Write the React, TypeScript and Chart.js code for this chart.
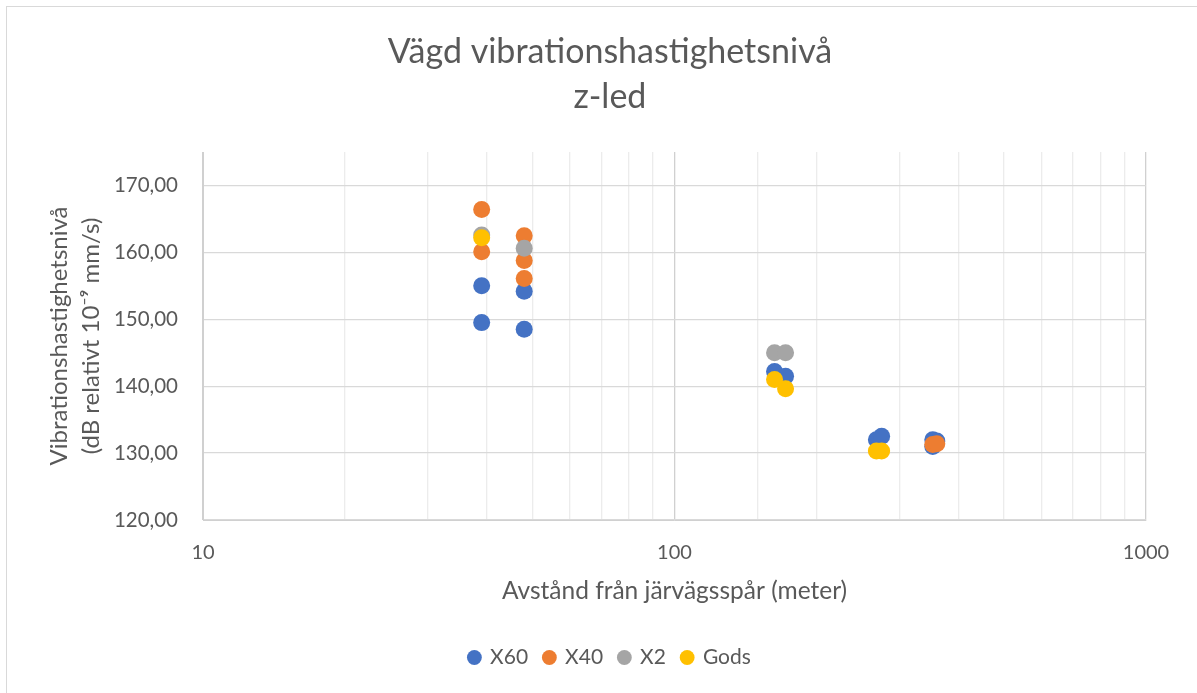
import React, { useEffect, useRef } from 'react';
import { Chart, registerables } from 'chart.js';

Chart.register(...registerables);

const titleLines = ['Vägd vibrationshastighetsnivå', 'z-led'];
const xAxisTitle = 'Avstånd från järvägsspår (meter)';
const yAxisTitle = ['Vibrationshastighetsnivå', '(dB relativt 10⁻⁹ mm/s)'];

const seriesNames = ['X60', 'X40', 'X2', 'Gods'];
const seriesColors = ['#4472C4', '#ED7D31', '#A5A5A5', '#FFC000'];

const x60X = [39, 39, 48, 48, 163, 172, 268, 275, 353, 360, 353];
const x60Y = [155.0, 149.5, 154.2, 148.5, 142.2, 141.5, 132.0, 132.5, 132.0, 131.8, 131.0];

const x40X = [39, 39, 48, 48, 48, 353, 360];
const x40Y = [166.4, 160.1, 162.5, 158.8, 156.1, 131.3, 131.4];

const x2X = [39, 48, 163, 172];
const x2Y = [162.6, 160.6, 145.0, 145.0];

const godsX = [39, 163, 172, 268, 275];
const godsY = [162.2, 141.0, 139.6, 130.3, 130.3];

const xMajorTicks = [10, 100, 1000];
const yTicks = [120, 130, 140, 150, 160, 170];
const yMin = 120;
const yMax = 175;

const FONT = 'Lato';
const TEXT = '#595959';

function toPoints(xs: number[], ys: number[]) {
  return xs.map((x, i) => ({ x, y: ys[i] }));
}

export default function App() {
  const ref = useRef<HTMLCanvasElement | null>(null);

  useEffect(() => {
    document.body.style.margin = '0';
    const canvas = ref.current;
    if (!canvas) return;
    const seriesData = [
      toPoints(x60X, x60Y),
      toPoints(x40X, x40Y),
      toPoints(x2X, x2Y),
      toPoints(godsX, godsY),
    ];
    const chart = new Chart(canvas, {
      type: 'scatter',
      data: {
        datasets: seriesNames.map((name, i) => ({
          label: name,
          data: seriesData[i],
          backgroundColor: seriesColors[i],
          borderColor: seriesColors[i],
          pointRadius: 8.5,
          pointHoverRadius: 8.5,
          pointBorderWidth: 0,
          order: seriesNames.length - i,
        })),
      },
      options: {
        animation: false,
        responsive: false,
        maintainAspectRatio: false,
        layout: { padding: { left: 74, right: 51, top: 0, bottom: 15 } },
        plugins: {
          tooltip: { enabled: false },
          title: {
            display: true,
            text: titleLines,
            color: TEXT,
            font: { family: FONT, size: 34, weight: 'normal', lineHeight: 45 / 34 },
            padding: { top: 29.5, bottom: 32.5 },
          },
          legend: {
            position: 'bottom',
            labels: {
              usePointStyle: true,
              pointStyle: 'circle',
              boxHeight: 10.5,
              boxWidth: 10.5,
              padding: 16,
              color: TEXT,
              font: { family: FONT, size: 21 },
              sort: (a: any, b: any) => a.datasetIndex - b.datasetIndex,
            },
          },
        },
        scales: {
          x: {
            type: 'logarithmic',
            min: 10,
            max: 1000,
            afterFit: (scale: any) => {
              scale.height = 111;
            },
            border: { color: '#d0d0d0' },
            grid: {
              drawTicks: false,
              color: (ctx: any) => {
                const v = ctx.tick ? ctx.tick.value : 0;
                return xMajorTicks.includes(v) ? '#d0d0d0' : '#ececec';
              },
              lineWidth: 1.3,
            },
            ticks: {
              autoSkip: false,
              maxRotation: 0,
              padding: 21,
              color: TEXT,
              font: { family: FONT, size: 20 },
              callback: (value: any) => (xMajorTicks.includes(Number(value)) ? String(value) : ''),
            },
            title: {
              display: true,
              text: xAxisTitle,
              color: TEXT,
              font: { family: FONT, size: 24.5, lineHeight: 1.2 },
              padding: { top: 0, bottom: 25 },
            },
          },
          y: {
            type: 'linear',
            min: yMin,
            max: yMax,
            afterFit: (scale: any) => {
              scale.width = 203 - 74;
            },
            afterBuildTicks: (scale: any) => {
              scale.ticks = yTicks.map((v) => ({ value: v }));
            },
            border: { color: '#d0d0d0' },
            grid: {
              drawTicks: false,
              color: '#d9d9d9',
              lineWidth: 1.3,
            },
            ticks: {
              padding: 25,
              color: TEXT,
              font: { family: FONT, size: 20.5 },
              callback: (value: any) => Number(value).toFixed(2).replace('.', ','),
            },
            title: {
              display: true,
              text: yAxisTitle,
              color: TEXT,
              font: { family: FONT, size: 24, lineHeight: 32 / 24 },
              padding: { top: -31, bottom: 0 },
            },
          },
        },
      },
    });
    return () => chart.destroy();
  }, []);

  return (
    <div style={{ position: 'relative', width: 1197, height: 693, overflow: 'hidden', background: '#fff' }}>
      <div
        style={{
          position: 'absolute',
          left: 6,
          top: 6,
          width: 1250,
          height: 750,
          border: '1.5px solid #d9d9d9',
          boxSizing: 'border-box',
        }}
      />
      <canvas ref={ref} width={1197} height={693} style={{ position: 'absolute', left: 0, top: 0, display: 'block' }} />
    </div>
  );
}
